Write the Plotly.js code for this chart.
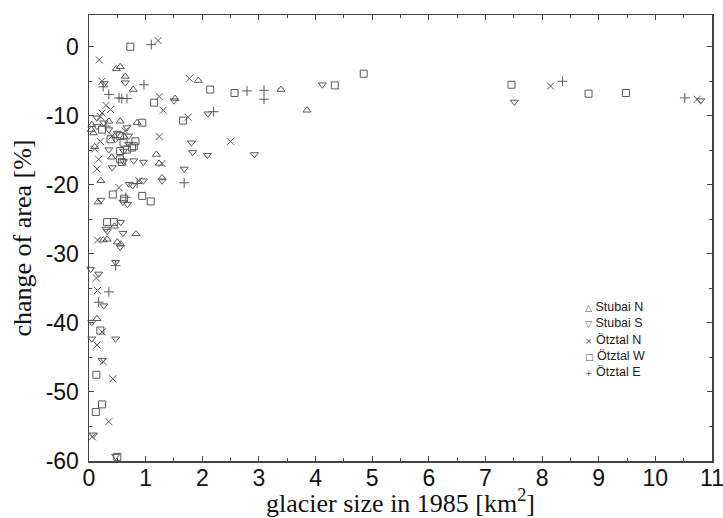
<!DOCTYPE html>
<html>
<head>
<meta charset="utf-8">
<script src="https://cdn.plot.ly/plotly-3.0.1.min.js"></script>
<style>html,body{margin:0;padding:0;background:#fff;}#chart{width:723px;height:518px;}</style>
</head>
<body>
<div id="chart"></div>
<script>
// ---- data (glacier size 1985 [km2], change of area [%]) ----
const stubaiN_x = [0.48,0.55,0.64,0.78,1.93,1.52,0.85,1.19,1.24,3.39,3.85,0.05,0.35,0.55,0.08,0.04,0.21,1.29,0.16,0.83,0.32,0.50,0.56,0.14,0.45,0.25,0.62,0.40,0.10];
const stubaiN_y = [-3.2,-2.9,-4.3,-6.2,-4.9,-7.5,-11.0,-15.6,-16.9,-6.2,-9.2,-11.3,-10.8,-10.8,-12.5,-12.0,-19.4,-19.0,-22.5,-27.1,-27.9,-28.3,-28.6,-39.4,-26.0,-28.0,-13.0,-16.0,-14.5];

const stubaiS_x = [0.64,0.27,1.50,2.10,1.81,1.83,2.09,0.96,1.68,2.92,4.12,7.51,0.14,0.26,0.14,0.35,0.50,0.70,0.67,0.47,0.70,0.35,0.61,0.61,0.79,0.71,0.77,0.96,1.29,0.21,0.60,0.68,0.30,0.32,0.56,0.55,0.47,0.03,0.17,0.26,0.05,0.47,0.05,0.23,0.08,0.47,0.41,0.60,10.80];
const stubaiS_y = [-5.2,-5.3,-7.8,-9.7,-13.9,-15.3,-15.7,-16.7,-17.7,-15.6,-5.5,-8.0,-10.3,-11.0,-11.5,-12.0,-12.5,-12.9,-11.7,-13.4,-14.1,-14.9,-15.1,-16.6,-16.5,-19.9,-20.1,-19.4,-19.4,-22.2,-22.5,-22.8,-26.4,-26.7,-25.4,-29.0,-31.2,-32.2,-32.9,-37.5,-39.9,-42.3,-42.3,-45.4,-56.2,-59.3,-17.5,-27.0,-7.8];

const oetzN_x = [1.22,0.18,0.23,1.77,1.24,1.31,1.75,1.24,1.29,2.50,8.15,10.74,0.23,0.38,0.20,0.41,0.64,0.20,0.17,0.14,0.53,0.15,0.13,0.15,0.23,0.14,0.25,0.42,0.35,0.06,0.10,0.30,0.88];
const oetzN_y = [0.9,-1.9,-5.0,-4.6,-7.2,-9.2,-10.2,-13.0,-16.9,-13.7,-5.7,-7.6,-9.6,-9.1,-10.1,-12.9,-12.2,-13.7,-16.3,-17.7,-20.4,-28.0,-33.5,-35.3,-41.3,-43.2,-45.6,-48.1,-54.3,-56.5,-14.8,-8.5,-19.4];

const oetzW_x = [0.73,2.14,1.15,1.66,0.94,2.57,4.34,4.85,7.46,8.82,9.48,0.23,0.55,0.38,0.61,0.79,0.82,0.55,0.67,0.76,0.55,0.58,0.42,0.94,1.09,0.32,0.44,0.20,0.13,0.23,0.12,0.50,0.62];
const oetzW_y = [0.0,-6.2,-8.1,-10.7,-11.0,-6.7,-5.6,-3.9,-5.5,-6.8,-6.7,-12.0,-12.9,-13.4,-13.9,-14.4,-13.7,-15.1,-14.9,-14.6,-16.3,-16.7,-21.4,-21.6,-22.4,-25.4,-25.4,-41.1,-47.5,-51.8,-52.9,-59.4,-22.0];

const oetzE_x = [1.10,0.25,0.97,0.35,0.53,0.58,0.67,2.20,1.68,2.79,3.09,3.09,8.36,10.52,0.85,0.65,0.47,0.35,0.17,0.30];
const oetzE_y = [0.3,-5.8,-5.5,-6.9,-7.4,-7.5,-7.5,-9.4,-19.7,-6.4,-6.3,-7.6,-5.0,-7.4,-19.8,-21.8,-31.7,-35.5,-37.0,-11.5];

const seriesNames = ['Stubai N','Stubai S','Ötztal N','Ötztal W','Ötztal E'];
const seriesSymbols = ['triangle-up-open','triangle-down-open','x-thin-open','square-open','cross-thin-open'];
const legendGlyphs = ['△','▽','×','□','+'];

const xTickVals = [0,1,2,3,4,5,6,7,8,9,10,11];
const yTickVals = [0,-10,-20,-30,-40,-50,-60];
const yTickText = ['0','-10','-20','-30','-40','-50','-60'];

// ---- build ----
const xs = [stubaiN_x, stubaiS_x, oetzN_x, oetzW_x, oetzE_x];
const ys = [stubaiN_y, stubaiS_y, oetzN_y, oetzW_y, oetzE_y];
const markColor = '#5a5a5a';
const traces = seriesNames.map((n,i)=>({
  type:'scatter', mode:'markers', name:n, x:xs[i], y:ys[i],
  marker:{symbol:seriesSymbols[i], size:7, color:markColor, line:{color:markColor, width:1}},
  showlegend:false, cliponaxis:false
}));

const legendText = seriesNames.map((n,i)=>
  '<span style="font-family:DejaVu Sans;font-size:9px;fill:#555555">' + legendGlyphs[i] + '</span> ' + n
).join('<br>');

const annotations = [{xref:'paper', yref:'paper', x:0.795, y:0.272, xanchor:'left', yanchor:'middle', align:'left',
  text:legendText, showarrow:false, borderpad:0,
  font:{family:'Liberation Sans, Arial, sans-serif', size:12.5, color:'#222222'}}];

const axisCommon = {
  showline:true, linecolor:'#444', linewidth:1.5, mirror:'allticks',
  ticks:'inside', ticklen:5, tickcolor:'#444', tickwidth:1,
  showgrid:false, zeroline:false,
  tickfont:{family:'Liberation Sans, Arial, sans-serif', size:23, color:'#111'}
};

const layout = {
  width:723, height:518,
  margin:{l:89, r:11, t:15, b:57},
  paper_bgcolor:'#fff', plot_bgcolor:'#fff',
  showlegend:false,
  xaxis:Object.assign({}, axisCommon, {
    range:[0,11], tickmode:'array', tickvals:xTickVals,
    ticklabelstandoff:-4, ticklabeloverflow:'allow',
    minor:{dtick:0.5, ticks:'inside', ticklen:3, tickcolor:'#444'},
    title:{text:'glacier size in 1985 [km<sup>2</sup>]', standoff:0,
      font:{family:'Liberation Serif, Times New Roman, serif', size:26, color:'#111'}}
  }),
  yaxis:Object.assign({}, axisCommon, {
    range:[-60,4.6], tickmode:'array', tickvals:yTickVals, ticktext:yTickText,
    ticklabelstandoff:4,
    minor:{dtick:5, ticks:'inside', ticklen:3, tickcolor:'#444'},
    title:{text:'change of area [%]', standoff:6,
      font:{family:'Liberation Serif, Times New Roman, serif', size:26, color:'#111'}}
  }),
  annotations:annotations
};

Plotly.newPlot('chart', traces, layout, {displayModeBar:false, staticPlot:true});
</script>
</body>
</html>
